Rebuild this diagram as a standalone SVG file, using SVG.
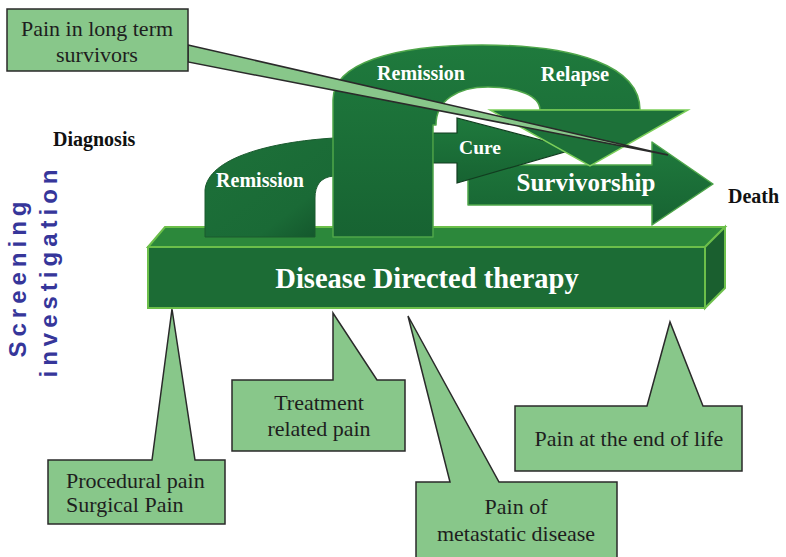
<svg xmlns="http://www.w3.org/2000/svg" width="786" height="557" viewBox="0 0 786 557">
<defs>
<linearGradient id="gDark" x1="0" y1="0" x2="0" y2="1">
<stop offset="0" stop-color="#1f7a3d"/>
<stop offset="1" stop-color="#176332"/>
</linearGradient>
<linearGradient id="gSmall" x1="0" y1="0" x2="1" y2="1">
<stop offset="0" stop-color="#1d7139"/>
<stop offset="0.7" stop-color="#1a6a36"/>
<stop offset="1" stop-color="#12522a"/>
</linearGradient>
</defs>
<style>
.shape{fill:url(#gDark);stroke:#4fa64a;stroke-width:1.5;stroke-linejoin:round}
.lbl{font-family:"Liberation Serif","Times New Roman",serif;font-weight:bold;fill:#ffffff}
.blk{font-family:"Liberation Serif","Times New Roman",serif;font-weight:bold;fill:#111111;font-size:20px}
.call{fill:#88c78a;stroke:#2a2a2a;stroke-width:1.5;stroke-linejoin:miter}
.ct{font-family:"Liberation Serif","Times New Roman",serif;font-size:22px;fill:#1e1e1e}
.side{font-family:"Liberation Sans",Arial,sans-serif;font-weight:bold;font-size:24px;fill:#36369a;letter-spacing:5px}
</style>
<rect width="786" height="557" fill="#ffffff"/>

<g id="bar">
<polygon points="148,247 165,227 725,227 705,247" fill="#2c883b" stroke="#6cbf4a" stroke-width="2"/>
<polygon points="705,247 725,227 725,288 705,308" fill="#1a5f2f" stroke="#6cbf4a" stroke-width="2"/>
<rect x="148" y="247" width="557" height="61" fill="#1c6c35" stroke="#6cbf4a" stroke-width="2"/>
<text class="lbl" x="427" y="288" font-size="28.5" text-anchor="middle">Disease Directed therapy</text>
</g>

<g id="remission-small">
<path d="M205,237 L205,190 C208,158 270,142 334,138 L334,176 C320,177 315,186 315,198 L315,237 Z" fill="url(#gSmall)" stroke="#1a5a2e" stroke-width="1"/>
<text class="lbl" x="260" y="187" font-size="20" text-anchor="middle">Remission</text>
</g>

<g id="survivorship">
<path d="M468,165 L652,165 L652,142 L713,184 L652,225 L652,205 L468,205 Z" class="shape"/>
<text class="lbl" x="586" y="191" font-size="25" text-anchor="middle">Survivorship</text>
</g>

<g id="cure">
<path d="M433,133 L457,133 L457,118 L575,149 L457,183 L457,163 L433,163 Z" fill="url(#gDark)" stroke="#123d20" stroke-width="1.2"/>
<text class="lbl" x="480" y="154" font-size="19.5" text-anchor="middle">Cure</text>
</g>

<g id="remission-arch">
<path d="M333,237 L333,100 C333,64 392,45 482,45 C576,45 640,66 640,110 L540,110 C540,96 518,87 488,87 C458,87 436,100 436,125 L433,125 L433,237 Z" class="shape"/>
<text class="lbl" x="421" y="80" font-size="20" text-anchor="middle">Remission</text>
</g>

<g id="relapse">
<polygon points="490,110 688,110 590,166" fill="#1d7139" stroke="#7ccf5a" stroke-width="1.5"/>
<text class="lbl" x="575" y="81" font-size="20.5" text-anchor="middle">Relapse</text>
</g>

<g id="diagnosis"><text class="blk" x="53" y="146" font-size="21">Diagnosis</text></g>
<g id="death"><text class="blk" x="728" y="203" font-size="21">Death</text></g>

<g id="screening">
<text class="side" transform="translate(26,277) rotate(-90)" text-anchor="middle">Screening</text>
<text class="side" transform="translate(57,271) rotate(-90)" text-anchor="middle">investigation</text>
</g>

<g id="connectors">
<path class="call" d="M188,45 L668,155 L188,62 Z"/>
</g>

<g id="callout-longterm">
<path class="call" d="M7,9 L188,9 L188,71 L7,71 Z"/>
<text class="ct" x="97" y="36" text-anchor="middle">Pain in long term</text>
<text class="ct" x="97" y="62" text-anchor="middle">survivors</text>
</g>

<g id="callout-procedural">
<path class="call" d="M48,460 L152,460 L172,309 L195,460 L225,460 L225,524 L48,524 Z"/>
<text class="ct" x="66" y="488">Procedural pain</text>
<text class="ct" x="66" y="512">Surgical Pain</text>
</g>

<g id="callout-treatment">
<path class="call" d="M232,380 L333,380 L333,313 L377,380 L405,380 L405,451 L232,451 Z"/>
<text class="ct" x="319" y="410" text-anchor="middle">Treatment</text>
<text class="ct" x="319" y="436" text-anchor="middle">related pain</text>
</g>

<g id="callout-metastatic">
<path class="call" d="M416,482 L450,482 L408,316 L499,482 L617,482 L617,560 L416,560 Z"/>
<text class="ct" x="516" y="514" text-anchor="middle">Pain of</text>
<text class="ct" x="516" y="541" text-anchor="middle">metastatic disease</text>
</g>

<g id="callout-endoflife">
<path class="call" d="M515,406 L647,406 L670,322 L703,406 L742,406 L742,471 L515,471 Z"/>
<text class="ct" x="629" y="446" text-anchor="middle">Pain at the end of life</text>
</g>
</svg>
